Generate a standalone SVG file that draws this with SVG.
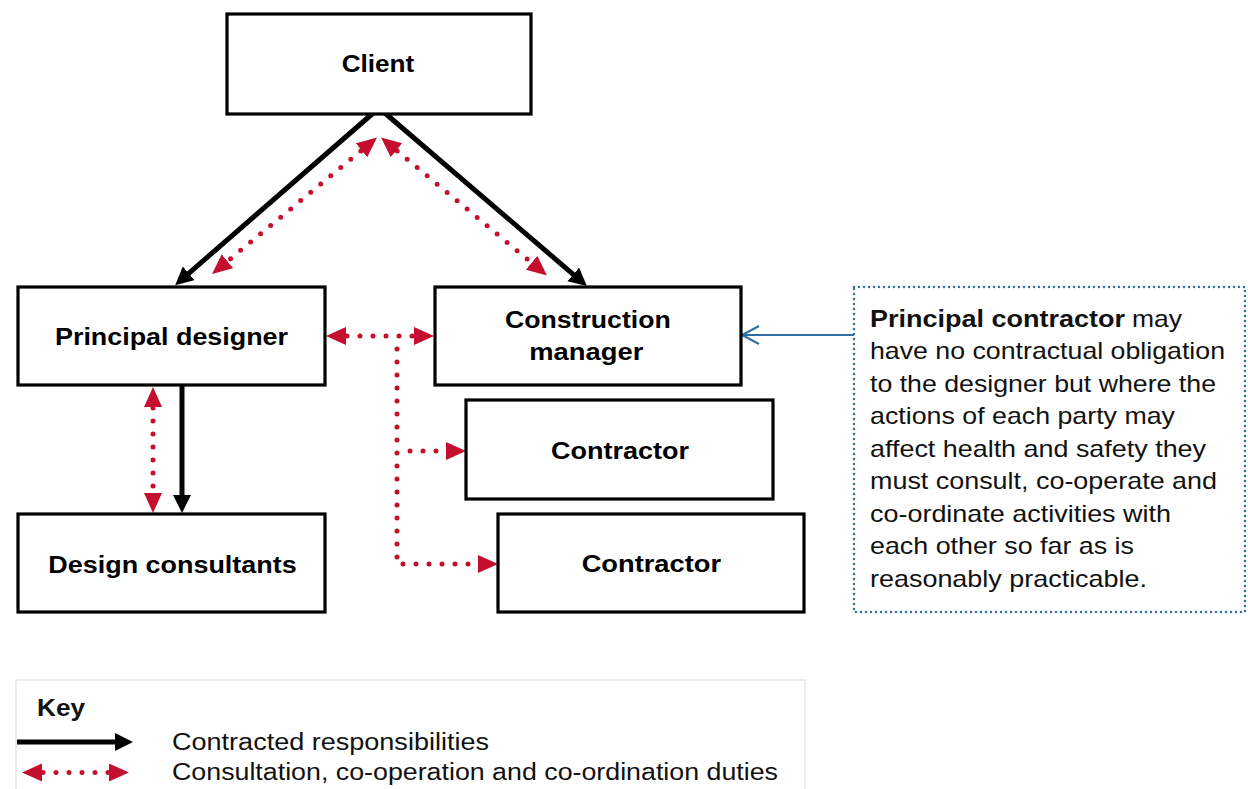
<svg xmlns="http://www.w3.org/2000/svg" width="1248" height="789" viewBox="0 0 1248 789">
<style>
.box{fill:#fff;stroke:#000;stroke-width:3.2}
.lbl{font-family:"Liberation Sans",Arial,sans-serif;font-weight:bold;font-size:23px;fill:#000}
.note{font-family:"Liberation Sans",Arial,sans-serif;font-size:24px;fill:#111}
.key{font-family:"Liberation Sans",Arial,sans-serif;font-size:23px;fill:#111}
.blk{fill:none;stroke:#000;stroke-width:5}
.red{fill:none;stroke:#c50f2f;stroke-width:5;stroke-linecap:round;stroke-dasharray:0 13}
</style>
<defs>
<marker id="ab" markerUnits="userSpaceOnUse" markerWidth="20" markerHeight="20" refX="8" refY="9" orient="auto"><path d="M0,0 L18,9 L0,18 z" fill="#000"/></marker>
<marker id="ar" markerUnits="userSpaceOnUse" markerWidth="22" markerHeight="20" refX="12" refY="9" orient="auto-start-reverse"><path d="M0,0 L20,9 L0,18 z" fill="#c50f2f"/></marker>
<marker id="ao" markerUnits="userSpaceOnUse" markerWidth="22" markerHeight="22" refX="18" refY="10" orient="auto"><path d="M1,1 L18,10 L1,19" fill="none" stroke="#2f6f9e" stroke-width="2"/></marker>
</defs>
<rect width="1248" height="789" fill="#fff"/>
<g id="connectors">
<path class="blk" d="M379,108 L182.7,278.6" marker-end="url(#ab)"/>
<path class="blk" d="M379,108 L579.3,279.6" marker-end="url(#ab)"/>
<path class="red" d="M370.8,142.6 L218.2,268.9" marker-start="url(#ar)" marker-end="url(#ar)"/>
<path class="red" d="M387.2,142.6 L540.8,270.4" marker-start="url(#ar)" marker-end="url(#ar)"/>
<path class="red" d="M334,336 H426" marker-start="url(#ar)" marker-end="url(#ar)"/>
<path class="red" d="M397,349 V564 H490" marker-end="url(#ar)"/>
<path class="red" d="M410,451 H458" marker-end="url(#ar)"/>
<path class="red" d="M153,395 V505" marker-start="url(#ar)" marker-end="url(#ar)"/>
<path class="blk" d="M182,386 V503" marker-end="url(#ab)"/>
<path d="M854,335 H742" fill="none" stroke="#2f6f9e" stroke-width="2" marker-end="url(#ao)"/>
</g>
<g id="client"><rect class="box" x="227" y="14" width="304" height="100"/><text class="lbl" x="341.7" y="72" textLength="72.6" lengthAdjust="spacingAndGlyphs">Client</text></g>
<g id="principal-designer"><rect class="box" x="18" y="287" width="307" height="98"/><text class="lbl" x="55" y="345" textLength="233" lengthAdjust="spacingAndGlyphs">Principal designer</text></g>
<g id="construction-manager"><rect class="box" x="435" y="287" width="306" height="98"/><text class="lbl" x="505" y="328" textLength="165.7" lengthAdjust="spacingAndGlyphs">Construction</text><text class="lbl" x="529.3" y="360" textLength="114" lengthAdjust="spacingAndGlyphs">manager</text></g>
<g id="contractor-1"><rect class="box" x="466" y="400" width="307" height="99"/><text class="lbl" x="551" y="459.3" textLength="138" lengthAdjust="spacingAndGlyphs">Contractor</text></g>
<g id="contractor-2"><rect class="box" x="498" y="514" width="306" height="98"/><text class="lbl" x="581.7" y="571.7" textLength="139.3" lengthAdjust="spacingAndGlyphs">Contractor</text></g>
<g id="design-consultants"><rect class="box" x="18" y="514" width="307" height="98"/><text class="lbl" x="48.3" y="573.3" textLength="248.4" lengthAdjust="spacingAndGlyphs">Design consultants</text></g>
<g id="note">
<rect x="854" y="287" width="391" height="325" fill="#fff" stroke="#31739c" stroke-width="2.5" stroke-linecap="round" stroke-dasharray="0 5"/>
<text class="note" x="870" y="326.5" font-weight="bold" textLength="255" lengthAdjust="spacingAndGlyphs">Principal contractor</text>
<text class="note" x="1132" y="326.5" textLength="50" lengthAdjust="spacingAndGlyphs">may</text>
<text class="note" x="870" y="359" textLength="355" lengthAdjust="spacingAndGlyphs">have no contractual obligation</text>
<text class="note" x="870" y="391.5" textLength="346" lengthAdjust="spacingAndGlyphs">to the designer but where the</text>
<text class="note" x="870" y="424" textLength="305" lengthAdjust="spacingAndGlyphs">actions of each party may</text>
<text class="note" x="870" y="456.5" textLength="336" lengthAdjust="spacingAndGlyphs">affect health and safety they</text>
<text class="note" x="870" y="489" textLength="347" lengthAdjust="spacingAndGlyphs">must consult, co-operate and</text>
<text class="note" x="870" y="521.5" textLength="301" lengthAdjust="spacingAndGlyphs">co-ordinate activities with</text>
<text class="note" x="870" y="554" textLength="264" lengthAdjust="spacingAndGlyphs">each other so far as is</text>
<text class="note" x="870" y="586.5" textLength="277" lengthAdjust="spacingAndGlyphs">reasonably practicable.</text>
</g>
<g id="key">
<rect x="16" y="680" width="789" height="130" fill="none" stroke="#d9d9d9" stroke-width="1"/>
<text class="key" x="37" y="716" font-weight="bold" font-size="21.5" textLength="48" lengthAdjust="spacingAndGlyphs">Key</text>
<path class="blk" d="M17,742 H123" marker-end="url(#ab)"/>
<path class="red" d="M30,772.5 H121" stroke-dasharray="0 10.5" marker-start="url(#ar)" marker-end="url(#ar)"/>
<text class="key" x="172" y="750" textLength="317" lengthAdjust="spacingAndGlyphs">Contracted responsibilities</text>
<text class="key" x="172" y="780" textLength="606" lengthAdjust="spacingAndGlyphs">Consultation, co-operation and co-ordination duties</text>
</g>
</svg>
